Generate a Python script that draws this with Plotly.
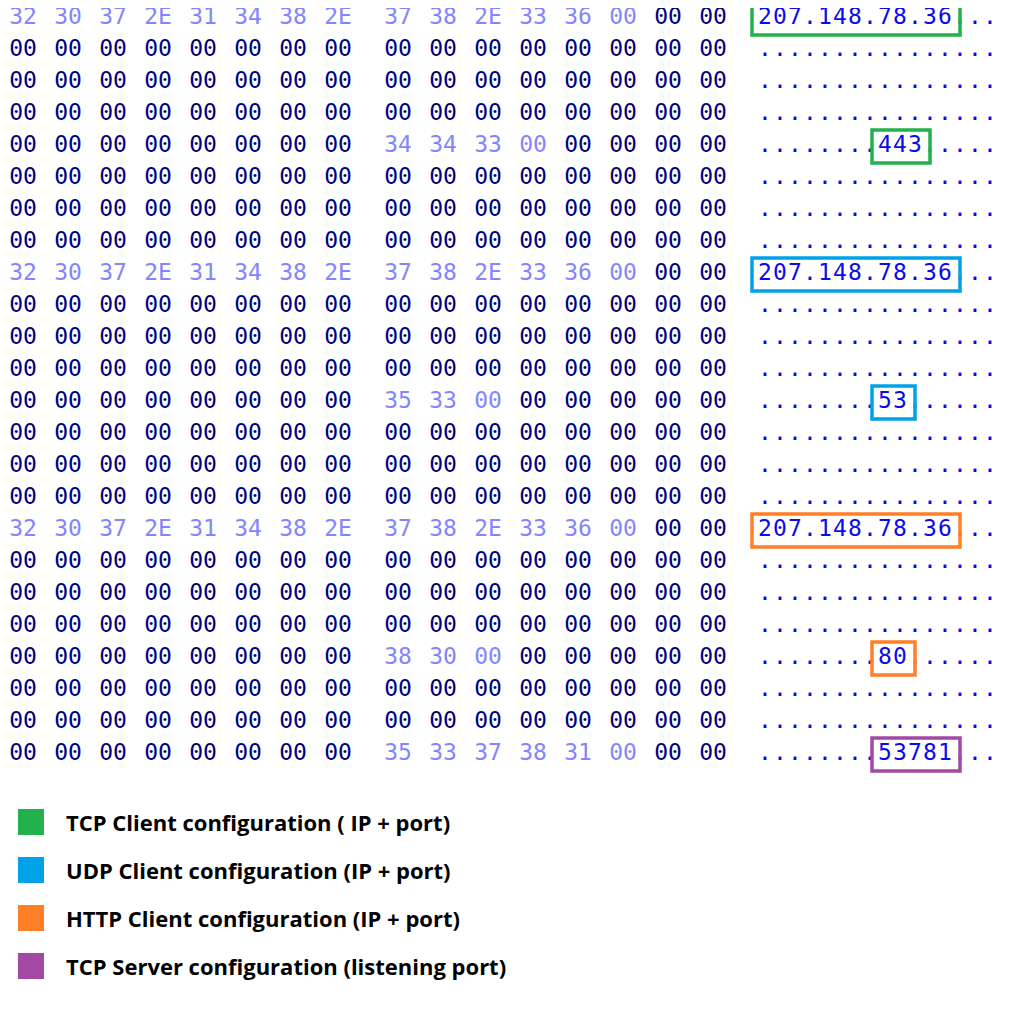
import plotly.graph_objects as go

# ---- data ----
tcp_ip = "207.148.78.36"
tcp_port = "443"
udp_ip = "207.148.78.36"
udp_port = "53"
http_ip = "207.148.78.36"
http_port = "80"
server_port = "53781"
n_rows = 24
n_cols = 16
# (row, col, string, colour)
fields = [
    (0, 0, tcp_ip, "#22b14c"), (4, 8, tcp_port, "#22b14c"),
    (8, 0, udp_ip, "#00a2e8"), (12, 8, udp_port, "#00a2e8"),
    (16, 0, http_ip, "#ff7f27"), (20, 8, http_port, "#ff7f27"),
    (23, 8, server_port, "#a349a4"),
]
legend_labels = ["TCP Client configuration ( IP + port)",
                 "UDP Client configuration (IP + port)",
                 "HTTP Client configuration (IP + port)",
                 "TCP Server configuration (listening port)"]
legend_colors = ["#22b14c", "#00a2e8", "#ff7f27", "#a349a4"]

# ---- build memory ----
mem = [[0] * n_cols for _ in range(n_rows)]
light = [[False] * n_cols for _ in range(n_rows)]
for r, c, s, _ in fields:
    for k, ch in enumerate(s + "\0"):
        mem[r][c + k] = ord(ch)
        light[r][c + k] = True

def row_y(r):
    return 18 + 32 * r

def hex_x(c):
    return 23 + 45 * c + (15 if c >= 8 else 0)

def asc_x(c):
    return 765 + 15 * c

mono = "DejaVu Sans Mono"
fig = go.Figure()
for flag, col in [(True, "#8484ff"), (False, "#000080")]:
    xs, ys, ts = [], [], []
    for r in range(n_rows):
        for c in range(n_cols):
            if light[r][c] == flag:
                xs.append(hex_x(c)); ys.append(row_y(r)); ts.append("%02X" % mem[r][c])
    fig.add_trace(go.Scatter(x=xs, y=ys, text=ts, mode="text",
                             textfont=dict(family=mono, size=23, color=col),
                             hoverinfo="skip"))
xs, ys, ts = [], [], []
for r in range(n_rows):
    for c in range(n_cols):
        xs.append(asc_x(c)); ys.append(row_y(r))
        ts.append(chr(mem[r][c]) if mem[r][c] else ".")
fig.add_trace(go.Scatter(x=xs, y=ys, text=ts, mode="text",
                         textfont=dict(family=mono, size=23, color="#0a0af0"),
                         hoverinfo="skip"))

for r, c, s, colr in fields:
    fig.add_shape(type="rect", x0=asc_x(c) - 13, x1=asc_x(c + len(s) - 1) + 15,
                  y0=row_y(r) - 16, y1=row_y(r) + 17,
                  line=dict(color=colr, width=3.5), fillcolor="rgba(0,0,0,0)")

for i, (lab, colr) in enumerate(zip(legend_labels, legend_colors)):
    yc = 822 + 48 * i
    fig.add_shape(type="rect", x0=18, x1=44, y0=yc - 13, y1=yc + 13,
                  line=dict(width=0), fillcolor=colr)
    fig.add_annotation(x=64, y=yc, text="<b>%s</b>" % lab, showarrow=False,
                       xanchor="left", yanchor="middle",
                       font=dict(family="Open Sans", size=22, color="black"))

# the page body has an 8px margin, so the axis ranges are shifted by it
fig.update_layout(width=1010, height=1021, margin=dict(l=0, r=0, t=0, b=0),
                  plot_bgcolor="white", paper_bgcolor="white", showlegend=False,
                  xaxis=dict(range=[8, 1018], visible=False, fixedrange=True),
                  yaxis=dict(range=[1029, 8], visible=False, fixedrange=True))
fig.write_html("out.html")
